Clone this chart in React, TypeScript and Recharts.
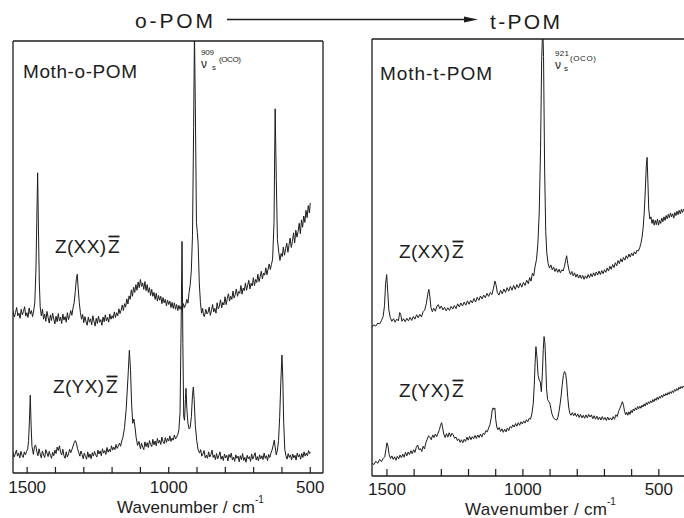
import React from 'react';
import { LineChart, Line, XAxis, YAxis } from 'recharts';

// Raman spectra, [wavenumber / cm-1, intensity (arb. units, 0-100 = panel height)]
// Moth-o-POM, Z(XX)Z
const oXX: [number, number][] = [
  [1550, 37.5], [1545, 36.1], [1541, 37.2], [1537, 38.3], [1533, 36.4], [1529, 37.0], [1525, 35.8], [1521, 37.9],
  [1517, 36.6], [1513, 37.4], [1509, 38.5], [1505, 36.3], [1501, 37.1], [1497, 36.0], [1493, 38.2], [1489, 36.8],
  [1485, 37.6], [1481, 36.2], [1477, 37.5], [1473, 39.5], [1469, 47], [1466, 58], [1463, 69.5], [1460, 56],
  [1457, 44], [1454, 38.5], [1450, 36.4], [1446, 37.9], [1442, 35.6], [1438, 36.8], [1434, 35.1], [1430, 37.4],
  [1426, 36.0], [1422, 34.7], [1418, 36.6], [1414, 35.3], [1410, 37.0], [1406, 35.6], [1402, 34.5], [1398, 36.3],
  [1394, 35.0], [1390, 36.9], [1386, 35.2], [1382, 36.1], [1378, 34.6], [1374, 36.8], [1370, 35.4], [1366, 36.2],
  [1362, 34.9], [1358, 37.1], [1354, 35.5], [1350, 36.4], [1346, 37.6], [1342, 36.5], [1338, 38.2], [1334, 39.4],
  [1330, 42], [1326, 45], [1323, 46], [1320, 43], [1316, 39.5], [1312, 37.2], [1308, 35.6], [1304, 36.7],
  [1300, 34.8], [1296, 36.2], [1292, 35.0], [1288, 34.2], [1284, 36.1], [1280, 34.9], [1276, 35.7], [1272, 34.3],
  [1268, 36.4], [1264, 35.1], [1260, 34.0], [1256, 35.8], [1252, 34.6], [1248, 36.3], [1244, 34.9], [1240, 35.5],
  [1236, 34.2], [1232, 36.1], [1228, 35.0], [1224, 36.6], [1220, 35.2], [1216, 36.0], [1212, 34.9], [1208, 36.8],
  [1204, 35.6], [1200, 36.4], [1196, 35.8], [1192, 37.3], [1188, 36.0], [1184, 37.1], [1180, 36.4], [1176, 38.0],
  [1172, 36.9], [1168, 37.7], [1164, 38.9], [1160, 37.6], [1156, 39.2], [1152, 38.4], [1148, 40.3], [1144, 39.1],
  [1140, 41.0], [1136, 40.2], [1132, 42.4], [1128, 40.9], [1124, 43.0], [1120, 41.8], [1116, 43.6], [1112, 42.3],
  [1108, 44.2], [1104, 42.9], [1100, 44.8], [1096, 43.2], [1092, 44.0], [1088, 42.5], [1084, 44.3], [1080, 42.2],
  [1076, 43.6], [1072, 41.8], [1068, 42.9], [1064, 41.1], [1060, 42.5], [1056, 40.9], [1052, 41.8], [1048, 40.2],
  [1044, 41.6], [1040, 39.8], [1036, 41.1], [1032, 40.0], [1028, 40.9], [1024, 39.2], [1020, 40.6], [1016, 39.4],
  [1012, 40.2], [1008, 38.7], [1004, 40.0], [1000, 39.0], [996, 39.8], [992, 38.3], [988, 39.5], [984, 38.1],
  [980, 39.4], [976, 37.9], [972, 39.0], [968, 37.6], [964, 38.8], [960, 37.9], [956, 38.6], [952, 37.6],
  [948, 39.2], [944, 38.3], [940, 39.0], [936, 40.2], [932, 39.3], [928, 41.8], [924, 43.6], [920, 47],
  [916, 55], [912, 80], [909, 102], [906, 85], [902, 58], [899, 55.7], [896, 53], [892, 44],
  [888, 39.5], [884, 37.0], [880, 38.1], [877, 36.4], [874, 36.2], [869, 37.9], [865, 36.8], [861, 37.2],
  [857, 38.4], [853, 36.5], [849, 37.6], [845, 39.0], [841, 37.3], [837, 38.1], [833, 37.0], [829, 39.4],
  [825, 38.0], [821, 38.6], [817, 40.1], [813, 38.2], [809, 39.5], [805, 38.9], [801, 40.8], [797, 39.0],
  [793, 40.4], [789, 41.5], [785, 39.8], [781, 40.9], [777, 40.2], [773, 42.1], [769, 40.5], [765, 41.3],
  [761, 42.6], [757, 40.9], [753, 42.0], [749, 41.6], [745, 43.4], [741, 41.4], [737, 42.8], [733, 42.2],
  [729, 44.0], [725, 42.3], [721, 43.5], [717, 44.6], [713, 42.6], [709, 43.9], [705, 43.3], [701, 45.2],
  [697, 43.4], [693, 44.8], [689, 44.1], [685, 46.0], [681, 44.3], [677, 45.4], [673, 46.7], [669, 44.9],
  [665, 46.3], [661, 45.8], [657, 47.5], [653, 45.9], [649, 47.2], [645, 48.4], [641, 47.1], [637, 48.3],
  [633, 49.5], [628, 58], [624, 84.3], [620, 68], [616, 54], [611, 51.0], [607, 49.2], [603, 50.8],
  [599, 50.1], [595, 52.3], [591, 50.4], [587, 51.9], [583, 53.2], [579, 51.1], [575, 52.8], [571, 54.4],
  [567, 52.2], [563, 53.6], [559, 55.6], [555, 53.3], [551, 56.2], [547, 54.6], [543, 55.9], [539, 57.8],
  [535, 55.4], [531, 58.6], [527, 56.9], [523, 59.5], [519, 58.0], [515, 60.8], [511, 59.1], [507, 61.9],
  [503, 60.2], [500, 62.5],
];

// Moth-o-POM, Z(YX)Z
const oYX: [number, number][] = [
  [1550, 4.8], [1546, 3.7], [1542, 4.4], [1538, 5.3], [1534, 3.9], [1530, 4.6], [1526, 3.5], [1522, 5.0],
  [1518, 4.1], [1514, 3.6], [1510, 4.9], [1506, 4.2], [1502, 5.0], [1498, 5.6], [1495, 7.5], [1492, 12],
  [1489, 18], [1486, 11], [1483, 6.2], [1478, 4.3], [1474, 6.2], [1470, 6.5], [1466, 5.0], [1462, 4.0],
  [1458, 5.6], [1454, 4.4], [1450, 3.5], [1446, 5.1], [1442, 4.2], [1438, 3.6], [1434, 5.4], [1430, 4.6],
  [1426, 3.8], [1422, 5.0], [1418, 4.1], [1414, 3.4], [1410, 4.8], [1406, 4.0], [1402, 5.3], [1398, 4.5],
  [1394, 6.0], [1390, 5.2], [1386, 6.3], [1382, 4.8], [1378, 4.2], [1374, 5.5], [1370, 4.0], [1366, 3.4],
  [1362, 4.9], [1358, 3.7], [1354, 4.4], [1350, 5.5], [1346, 4.7], [1342, 5.4], [1338, 6.2], [1334, 7.0],
  [1330, 7.5], [1326, 6.9], [1322, 5.6], [1318, 4.8], [1314, 3.9], [1310, 5.1], [1306, 4.3], [1302, 3.3],
  [1298, 4.6], [1294, 3.8], [1290, 3.2], [1286, 4.9], [1282, 3.6], [1278, 4.4], [1274, 3.3], [1270, 4.7],
  [1266, 3.9], [1262, 5.0], [1258, 4.2], [1254, 3.7], [1250, 5.3], [1246, 4.4], [1242, 5.1], [1238, 4.0],
  [1234, 5.6], [1230, 4.6], [1226, 5.2], [1222, 4.3], [1218, 5.9], [1214, 4.8], [1210, 5.5], [1206, 4.9],
  [1202, 6.3], [1198, 5.3], [1194, 6.0], [1190, 5.4], [1186, 6.6], [1182, 5.7], [1178, 6.3], [1174, 6.9],
  [1170, 6.2], [1166, 7.4], [1162, 8.2], [1156, 10.5], [1150, 15], [1144, 22], [1139, 28.4], [1135, 24],
  [1131, 16], [1127, 11.5], [1123, 12.5], [1119, 10.6], [1115, 8.2], [1110, 6.4], [1105, 7.3], [1100, 5.6],
  [1096, 6.9], [1092, 6.0], [1088, 5.4], [1084, 7.2], [1080, 6.1], [1076, 7.0], [1072, 5.9], [1068, 7.5],
  [1064, 6.6], [1060, 6.1], [1056, 7.8], [1052, 6.5], [1048, 7.4], [1044, 6.3], [1040, 8.0], [1036, 6.9],
  [1032, 7.6], [1028, 6.6], [1024, 8.3], [1020, 7.2], [1016, 6.8], [1012, 8.2], [1008, 7.1], [1004, 8.0],
  [1000, 7.4], [996, 8.6], [992, 7.3], [988, 8.1], [984, 7.6], [980, 8.8], [976, 7.9], [972, 8.3],
  [968, 8.9], [964, 10.0], [960, 14], [956, 35], [953, 53.6], [950, 30], [947, 13], [944, 12.2],
  [941, 17], [939, 19.6], [936, 15], [932, 11.5], [928, 10.2], [924, 10.6], [920, 13], [916, 18],
  [913, 19.9], [910, 17], [906, 11], [901, 7.5], [896, 5.4], [891, 4.6], [887, 5.4], [883, 3.9],
  [879, 4.4], [875, 5.2], [871, 3.5], [867, 4.1], [863, 3.4], [859, 4.9], [855, 3.7], [851, 4.3],
  [847, 5.3], [843, 3.6], [839, 4.2], [835, 3.1], [831, 4.5], [827, 3.3], [823, 4.0], [819, 4.9],
  [815, 3.2], [811, 3.9], [807, 2.9], [803, 4.4], [799, 3.5], [795, 4.1], [791, 2.8], [787, 4.3],
  [783, 3.6], [779, 4.6], [775, 3.0], [771, 3.7], [767, 2.7], [763, 4.2], [759, 3.4], [755, 3.9],
  [751, 2.6], [747, 4.0], [743, 3.1], [739, 4.5], [735, 2.9], [731, 3.6], [727, 2.5], [723, 4.1],
  [719, 3.3], [715, 3.8], [711, 2.7], [707, 4.4], [703, 3.2], [699, 3.9], [695, 4.7], [691, 3.0],
  [687, 3.8], [683, 2.8], [679, 4.2], [675, 3.3], [671, 4.0], [667, 3.1], [663, 4.6], [659, 3.4],
  [655, 4.0], [651, 2.9], [647, 4.3], [643, 3.6], [639, 4.6], [635, 5.3], [631, 6.4], [627, 7.6],
  [624, 6.0], [620, 4.2], [616, 5.3], [612, 7.5], [608, 13], [604, 21], [600, 27.3], [597, 22],
  [594, 12], [590, 5.5], [586, 4.0], [582, 3.2], [578, 4.5], [574, 3.6], [570, 4.2], [566, 3.0],
  [562, 4.4], [558, 3.5], [554, 4.1], [550, 3.0], [546, 4.6], [542, 3.7], [538, 4.3], [534, 3.2],
  [530, 4.5], [526, 3.6], [522, 4.9], [518, 3.9], [514, 4.6], [510, 4.0], [506, 5.2], [502, 4.5],
  [500, 4.8],
];

// Moth-t-POM, Z(XX)Z
const tXX: [number, number][] = [
  [1555, 34.0], [1548, 34.6], [1541, 34.3], [1534, 35.0], [1527, 34.8], [1520, 35.6], [1514, 36.5], [1509, 39],
  [1505, 44], [1501, 46.1], [1497, 42], [1493, 38], [1488, 36.3], [1482, 35.4], [1476, 36.0], [1470, 35.2],
  [1464, 35.9], [1458, 35.5], [1453, 37.4], [1449, 36.9], [1445, 35.4], [1439, 36.0], [1433, 35.3], [1427, 36.1],
  [1421, 35.5], [1415, 36.3], [1409, 35.6], [1403, 36.5], [1397, 35.9], [1391, 36.9], [1385, 36.2], [1379, 37.0],
  [1373, 36.4], [1367, 37.6], [1361, 38.0], [1355, 39.5], [1350, 41.5], [1346, 42.7], [1342, 41.0], [1338, 38.5],
  [1333, 37.6], [1328, 38.4], [1322, 37.7], [1316, 38.9], [1311, 39.2], [1306, 38.3], [1300, 38.9], [1294, 38.0],
  [1288, 38.6], [1282, 37.8], [1276, 38.5], [1270, 37.9], [1264, 38.8], [1258, 38.2], [1252, 39.0], [1246, 38.3],
  [1240, 39.4], [1234, 38.7], [1228, 39.6], [1222, 38.9], [1216, 39.8], [1210, 39.1], [1204, 40.1], [1198, 39.3],
  [1192, 40.2], [1186, 39.6], [1180, 40.6], [1174, 39.8], [1168, 40.9], [1162, 40.2], [1156, 41.2], [1150, 40.5],
  [1144, 41.4], [1138, 40.8], [1132, 41.8], [1126, 41.1], [1120, 42.0], [1114, 41.5], [1108, 43.0], [1103, 44.6],
  [1099, 43.8], [1094, 42.0], [1088, 41.4], [1082, 42.5], [1076, 41.7], [1070, 42.8], [1064, 42.0], [1058, 43.1],
  [1052, 42.3], [1046, 43.4], [1040, 42.5], [1034, 43.6], [1028, 42.7], [1022, 43.8], [1016, 43.0], [1010, 44.1],
  [1004, 43.2], [998, 44.3], [992, 43.6], [986, 44.8], [980, 44.0], [975, 45.4], [970, 44.6], [965, 46.4],
  [960, 45.8], [955, 48.0], [950, 49.5], [945, 53], [940, 60], [935, 75], [931, 95], [927, 103],
  [924, 96], [920, 70], [916, 56], [912, 51], [907, 48.6], [902, 47.6], [897, 48.3], [892, 47.2],
  [887, 47.8], [882, 46.8], [877, 47.5], [872, 46.6], [867, 47.3], [862, 46.5], [857, 47.2], [852, 46.9],
  [847, 48.0], [843, 49.3], [839, 50.4], [835, 48.6], [830, 47.0], [825, 46.1], [820, 46.8], [815, 45.8],
  [810, 46.5], [805, 45.5], [800, 46.2], [795, 45.3], [790, 46.0], [785, 45.2], [780, 45.9], [775, 45.0],
  [770, 45.8], [765, 45.2], [760, 46.1], [755, 45.4], [750, 46.3], [745, 45.6], [740, 46.5], [735, 45.8],
  [730, 46.7], [725, 46.0], [720, 46.9], [715, 46.1], [710, 47.0], [705, 46.3], [700, 47.2], [695, 46.6],
  [690, 47.6], [685, 46.9], [680, 48.0], [675, 47.3], [670, 48.4], [665, 47.7], [660, 48.8], [655, 48.1],
  [650, 49.3], [645, 48.6], [640, 49.7], [635, 49.0], [630, 50.0], [625, 49.4], [620, 50.4], [615, 49.8],
  [610, 50.8], [605, 50.1], [600, 51.0], [595, 50.4], [590, 51.3], [585, 50.8], [580, 51.7], [575, 51.5],
  [570, 52.3], [566, 53.2], [562, 54.5], [558, 56.5], [554, 60], [550, 65], [546, 71], [543, 72.9],
  [540, 67], [537, 61], [533, 58.8], [529, 59.3], [525, 57.8], [521, 58.7], [517, 57.4], [513, 58.5],
  [509, 57.5], [505, 58.8], [501, 57.4], [497, 58.5], [493, 57.8], [489, 59.0], [485, 58.2], [481, 59.3],
  [477, 58.5], [473, 59.6], [469, 58.9], [465, 59.9], [461, 59.1], [457, 60.2], [453, 59.3], [449, 60.0],
  [445, 59.0], [441, 60.3], [437, 59.6], [433, 60.6], [429, 59.8], [425, 60.8], [421, 60.0], [417, 61.0],
  [413, 60.3], [409, 61.1], [404, 60.5], [400, 61.2],
];

// Moth-t-POM, Z(YX)Z
const tYX: [number, number][] = [
  [1555, 3.0], [1548, 2.6], [1541, 3.4], [1534, 2.9], [1527, 3.8], [1520, 3.3], [1514, 4.0], [1508, 4.4],
  [1504, 6.0], [1500, 7.6], [1496, 6.8], [1492, 4.9], [1487, 4.0], [1482, 4.6], [1477, 3.8], [1472, 4.4],
  [1467, 3.6], [1462, 4.5], [1457, 3.9], [1452, 4.8], [1447, 4.2], [1442, 5.0], [1437, 4.3], [1432, 5.4],
  [1427, 4.6], [1422, 5.5], [1417, 4.9], [1412, 5.8], [1407, 5.1], [1402, 6.0], [1397, 5.4], [1392, 6.6],
  [1387, 7.1], [1382, 6.0], [1377, 6.3], [1372, 5.6], [1367, 6.8], [1362, 6.2], [1357, 7.6], [1352, 8.4],
  [1347, 9.2], [1342, 8.9], [1337, 8.3], [1332, 9.4], [1327, 8.8], [1322, 9.6], [1317, 9.0], [1312, 9.8],
  [1307, 10.6], [1303, 11.6], [1299, 12.2], [1295, 11.0], [1291, 9.6], [1286, 8.8], [1281, 9.7], [1276, 8.9],
  [1271, 9.9], [1266, 9.0], [1261, 9.8], [1256, 9.4], [1251, 8.6], [1246, 8.9], [1241, 8.1], [1236, 8.5],
  [1231, 7.7], [1226, 8.3], [1221, 7.6], [1216, 8.4], [1211, 7.9], [1206, 8.9], [1201, 8.2], [1196, 9.1],
  [1191, 8.3], [1186, 9.0], [1181, 8.5], [1176, 9.3], [1171, 8.6], [1166, 9.4], [1161, 8.8], [1156, 9.6],
  [1151, 8.9], [1146, 9.8], [1141, 9.5], [1136, 10.4], [1131, 10.1], [1126, 11.0], [1121, 11.8], [1116, 13.5],
  [1112, 15.4], [1109, 15.6], [1106, 15.2], [1103, 15.5], [1100, 13.0], [1096, 11.2], [1092, 10.6], [1087, 11.1],
  [1082, 10.2], [1077, 10.8], [1072, 10.0], [1067, 10.7], [1062, 10.1], [1057, 11.0], [1052, 10.4], [1047, 11.3],
  [1042, 11.0], [1037, 11.7], [1032, 11.2], [1027, 12.0], [1022, 11.4], [1017, 12.2], [1012, 11.6], [1007, 12.4],
  [1002, 11.9], [997, 12.6], [992, 12.1], [987, 12.9], [982, 12.4], [977, 13.2], [972, 13.0], [967, 14.2],
  [962, 16.5], [958, 21], [955, 26], [952, 29.6], [948, 27], [944, 23], [940, 22], [936, 21.5],
  [932, 19.3], [928, 24], [925, 29], [922, 31.9], [919, 30.5], [916, 26], [913, 20], [909, 17.5],
  [905, 17.0], [901, 16.7], [897, 15.4], [893, 14.2], [888, 13.4], [883, 13.0], [879, 12.9], [875, 12.8],
  [871, 13.5], [867, 14.8], [863, 16.5], [859, 18.5], [855, 21], [851, 23], [847, 23.9], [843, 23.5],
  [839, 21.5], [835, 18], [831, 15.5], [827, 14.3], [823, 13.9], [818, 14.5], [813, 13.8], [808, 14.4],
  [803, 13.6], [798, 14.2], [793, 13.4], [788, 14.1], [783, 13.3], [778, 13.9], [773, 13.2], [768, 14.0],
  [763, 13.3], [758, 14.1], [753, 13.5], [748, 14.0], [743, 13.1], [738, 13.8], [733, 13.0], [728, 13.7],
  [723, 12.9], [718, 13.5], [713, 12.8], [708, 13.6], [703, 12.9], [698, 13.4], [693, 12.7], [688, 13.5],
  [683, 12.8], [678, 13.3], [673, 12.8], [668, 13.6], [663, 13.0], [658, 14.0], [653, 13.6], [648, 14.8],
  [643, 15.5], [638, 16.3], [634, 17.0], [630, 16.2], [626, 14.8], [622, 14.0], [618, 14.6], [614, 13.9],
  [610, 14.7], [606, 14.1], [602, 15.0], [598, 14.5], [594, 15.3], [590, 14.9], [586, 15.6], [582, 15.1],
  [578, 15.9], [574, 15.4], [570, 16.0], [566, 15.5], [562, 16.2], [558, 15.8], [554, 16.5], [550, 16.0],
  [546, 16.8], [542, 16.3], [538, 17.0], [534, 16.6], [530, 17.2], [526, 16.8], [522, 17.5], [518, 17.0],
  [514, 17.7], [510, 17.3], [506, 18.0], [502, 17.5], [498, 18.2], [494, 17.8], [490, 18.5], [486, 18.0],
  [482, 18.7], [478, 18.3], [474, 18.9], [470, 18.5], [466, 19.1], [462, 18.7], [458, 19.3], [454, 18.9],
  [450, 19.5], [446, 19.1], [442, 19.8], [438, 19.4], [434, 20.0], [430, 19.6], [426, 20.3], [422, 19.9],
  [418, 20.5], [414, 20.1], [410, 20.6], [405, 20.2], [400, 20.7],
];

const oTicks = [1500, 1400, 1300, 1200, 1100, 1000, 900, 800, 700, 600, 500];
const tTicks = [1500, 1400, 1300, 1200, 1100, 1000, 900, 800, 700, 600, 500, 400];
const majorTicks = [1500, 1000, 500];

const INK = '#1c1c1c';
const FONT = '"Liberation Sans", Arial, sans-serif';
const frame = { stroke: INK, strokeWidth: 1.3 };

const toPts = (arr: [number, number][]) => arr.map(([x, y]) => ({ x, y }));

function WaveTick({ x, y, payload, len, labelDy }: any) {
  const major = majorTicks.includes(payload.value);
  return (
    <g>
      <line x1={x} x2={x} y1={y} y2={y - len} stroke={INK} strokeWidth={1.2} />
      {major && (
        <text x={x} y={y + labelDy} textAnchor="middle" fontSize={17} fontFamily={FONT} fill={INK}>
          {payload.value}
        </text>
      )}
    </g>
  );
}

// Z(..)Z with a bar over the last Z; y is the baseline
function ZLabel({ x, y, pol }: { x: number; y: number; pol: string }) {
  return (
    <g fontFamily={FONT} fontSize={19} fill={INK}>
      <text x={x} y={y} textLength={51} lengthAdjust="spacing">{`Z(${pol})`}</text>
      <text x={x + 53} y={y}>Z</text>
      <line x1={x + 53.5} x2={x + 64.5} y1={y - 16.5} y2={y - 16.5} stroke={INK} strokeWidth={1.8} />
    </g>
  );
}

// axes need a non-zero size to be drawn, so each takes 1px out of the margin
function SpectrumPanel({ width, margin, domain, ticks, tickLen, labelDy, upper, lower }: any) {
  return (
    <LineChart width={width} height={518} margin={margin}>
      <XAxis xAxisId="b" type="number" dataKey="x" domain={domain} reversed allowDataOverflow
        ticks={ticks} interval={0} height={1} tickSize={0} tickMargin={0} tickLine={false}
        axisLine={frame} tick={(p: any) => <WaveTick {...p} len={tickLen} labelDy={labelDy} />} />
      <XAxis xAxisId="t" orientation="top" type="number" dataKey="x" domain={domain} reversed allowDataOverflow
        height={1} tick={false} tickLine={false} axisLine={frame} />
      <YAxis yAxisId="l" type="number" domain={[0, 100]} allowDataOverflow width={1}
        tick={false} tickLine={false} axisLine={frame} />
      <YAxis yAxisId="r" orientation="right" type="number" domain={[0, 100]} allowDataOverflow width={1}
        tick={false} tickLine={false} axisLine={frame} />
      <Line xAxisId="b" yAxisId="l" data={toPts(upper)} dataKey="y" type="linear" dot={false}
        stroke={INK} strokeWidth={1} isAnimationActive={false} />
      <Line xAxisId="b" yAxisId="l" data={toPts(lower)} dataKey="y" type="linear" dot={false}
        stroke={INK} strokeWidth={1} isAnimationActive={false} />
    </LineChart>
  );
}

export default function App() {
  return (
    <div style={{ position: 'absolute', left: 0, top: 0, width: 684, height: 518, overflow: 'hidden', background: '#fff' }}>
      <div style={{ position: 'absolute', left: 0, top: 0 }}>
        <SpectrumPanel width={340} margin={{ top: 40, right: 16, bottom: 44, left: 12 }}
          domain={[455, 1550]} ticks={oTicks} tickLen={6} labelDy={20} upper={oXX} lower={oYX} />
      </div>
      <div style={{ position: 'absolute', left: 340, top: 0 }}>
        <SpectrumPanel width={360} margin={{ top: 38, right: 13, bottom: 41, left: 31 }}
          domain={[400, 1555]} ticks={tTicks} tickLen={7} labelDy={19} upper={tXX} lower={tYX} />
      </div>
      <svg width={684} height={518} style={{ position: 'absolute', left: 0, top: 0, pointerEvents: 'none' }}>
        <g fontFamily={FONT} fill={INK}>
          <text x={135} y={28} fontSize={21} textLength={78} lengthAdjust="spacing">o-POM</text>
          <line x1={227} x2={468} y1={19.5} y2={19.5} stroke={INK} strokeWidth={1.5} />
          <polygon points="464,16.5 478,19.5 464,22.5" fill={INK} />
          <text x={490} y={29} fontSize={21} textLength={70} lengthAdjust="spacing">t-POM</text>

          <text x={23} y={78} fontSize={19} textLength={114} lengthAdjust="spacing">Moth-o-POM</text>
          <text x={380} y={80} fontSize={19} textLength={112} lengthAdjust="spacing">Moth-t-POM</text>

          <text x={201} y={55} fontSize={8} textLength={13} lengthAdjust="spacing">909</text>
          <text x={201} y={68} fontSize={12}>ν</text>
          <text x={212} y={70} fontSize={8}>s</text>
          <text x={219} y={62} fontSize={8} textLength={22} lengthAdjust="spacing">(OCO)</text>

          <text x={555} y={56} fontSize={8} textLength={14} lengthAdjust="spacing">921</text>
          <text x={555} y={69} fontSize={12}>ν</text>
          <text x={564} y={71} fontSize={8}>s</text>
          <text x={570} y={61} fontSize={8} textLength={26} lengthAdjust="spacing">(OCO)</text>

          <text x={117} y={513} fontSize={17} textLength={138} lengthAdjust="spacing">Wavenumber / cm</text>
          <text x={255} y={503} fontSize={10}>-1</text>
          <text x={465} y={515} fontSize={17} textLength={142} lengthAdjust="spacing">Wavenumber / cm</text>
          <text x={607} y={505} fontSize={10}>-1</text>
        </g>
        <ZLabel x={55} y={253} pol="XX" />
        <ZLabel x={53} y={393} pol="YX" />
        <ZLabel x={399} y={258} pol="XX" />
        <ZLabel x={399} y={397} pol="YX" />
      </svg>
    </div>
  );
}
